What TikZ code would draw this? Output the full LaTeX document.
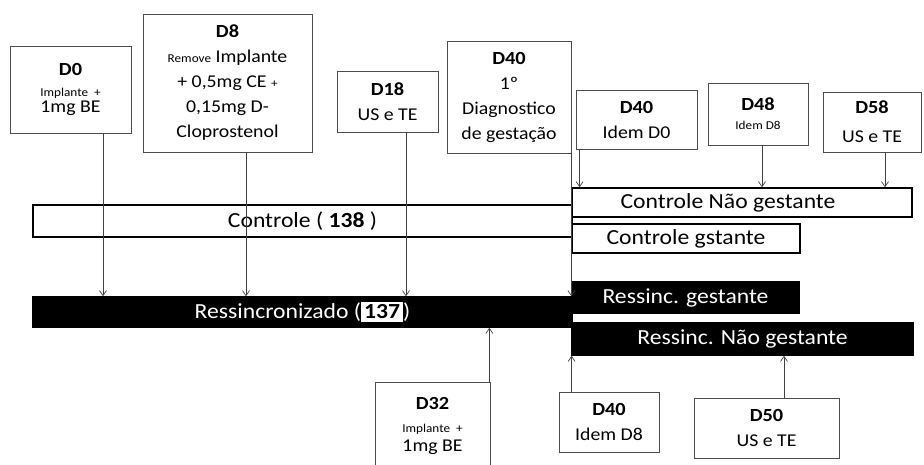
\documentclass[tikz,border=0pt]{standalone}
\usepackage{fontspec}
\setmainfont{Carlito}[FakeStretch=1.1]
\usetikzlibrary{arrows.meta}
\newcommand{\dia}[1]{{\fontsize{18.5}{20}\selectfont\bfseries #1}}
\newcommand{\miudo}[1]{{\fontsize{12}{14}\selectfont #1}}
\tikzstyle{caixa}=[rectangle, draw=black!70, line width=0.8pt,
                   inner sep=0pt, align=center,
                   font=\fontsize{18}{25}\selectfont]
\tikzstyle{barra}=[rectangle, draw=black, line width=1.6pt,
                   inner sep=0pt, font=\fontsize{21.5}{24}\selectfont]
\tikzstyle{barrapreta}=[barra, fill=black, text=white]

\begin{document}
\begin{tikzpicture}[x=1pt,y=-1pt,>={Straight Barb[length=5pt,width=7pt]}]
  \tikzstyle{seta}=[->,black!75,line width=0.7pt]
  \useasboundingbox (0,0) rectangle (924,464);
  \node (d0) at (70.5,89.5) [caixa,minimum width=121pt,minimum height=87pt] {\dia{D0}\\[-4pt]\miudo{Implante~~+}\\[-9pt]1mg BE};
  \node (d8) at (227.5,83) [caixa,minimum width=169pt,minimum height=138pt] {\dia{D8}\\\miudo{Remove} Implante\\+ 0,5mg CE \miudo{+}\\0,15mg D-\\Cloprostenol};
  \node (d18) at (387.5,101.5) [caixa,minimum width=101pt,minimum height=61pt] {\dia{D18}\\US e TE};
  \node (diag) at (509,97) [caixa,minimum width=124pt,minimum height=112pt] {\dia{D40}\\1º\\Diagnostico\\de gestação};
  \node (d40a) at (636.5,119.5) [caixa,minimum width=121pt,minimum height=59pt] {\dia{D40}\\Idem D0};
  \node (d48) at (758,114) [caixa,minimum width=100pt,minimum height=62pt] {\dia{D48}\\[-6pt]\miudo{Idem D8}};
  \node (d58) at (872,122) [caixa,minimum width=98pt,minimum height=60pt] {\dia{D58}\\[4pt]US e TE};
  \node (controle) at (302.5,221) [barra,minimum width=539pt,minimum height=32pt] {Controle ( \textbf{138} )};
  \node (cnao) at (742,202.5) [barra,minimum width=340pt,minimum height=29pt] {Controle Não gestante\hspace*{28pt}};
  \node (cgest) at (686,238.5) [barra,minimum width=228pt,minimum height=29pt] {Controle gstante};
  \node (ressinc) at (302.5,312) [barrapreta,minimum width=539pt,minimum height=30pt] {Ressincronizado (\colorbox{white}{\textcolor{black}{\bfseries 137}})};
  \node (rgest) at (685.5,297.5) [barrapreta,minimum width=227pt,minimum height=31pt] {Ressinc. gestante};
  \node (rnao) at (742.5,339) [barrapreta,minimum width=341pt,minimum height=32pt] {Ressinc. Não gestante};
  \node (d32) at (432.5,426) [caixa,minimum width=115pt,minimum height=88pt] {\dia{D32}\\[-2pt]\miudo{Implante~~+}\\[-6pt]1mg BE};
  \node (d40b) at (609,422) [caixa,minimum width=100pt,minimum height=60pt] {\dia{D40}\\Idem D8};
  \node (d50) at (766.5,428) [caixa,minimum width=145pt,minimum height=60pt] {\dia{D50}\\US e TE};
  \draw [seta] ([xshift=32.5pt]d0.south) -- ([xshift=32.5pt]d0.south |- ressinc.north);
  \draw [seta] ([xshift=18.5pt]d8.south) -- ([xshift=18.5pt]d8.south |- ressinc.north);
  \draw [seta] ([xshift=18.5pt]d18.south) -- ([xshift=18.5pt]d18.south |- ressinc.north);
  \draw [seta] (diag.south east) -- (diag.south east |- ressinc.north);
  \draw [seta] ([xshift=4pt]d40a.south west) -- ([xshift=4pt]d40a.south west |- cnao.north);
  \draw [seta] ([xshift=4pt]d48.south) -- ([xshift=4pt]d48.south |- cnao.north);
  \draw [seta] ([xshift=13pt]d58.south) -- ([xshift=13pt]d58.south |- cnao.north);
  \draw [seta] ([xshift=-1pt]d32.north east) -- ([xshift=-1pt]d32.north east |- ressinc.south);
  \draw [seta] ([xshift=13pt]d40b.north west) -- ([xshift=13pt]d40b.north west |- rnao.south);
  \draw [seta] ([xshift=17.5pt]d50.north) -- ([xshift=17.5pt]d50.north |- rnao.south);
\end{tikzpicture}
\end{document}
